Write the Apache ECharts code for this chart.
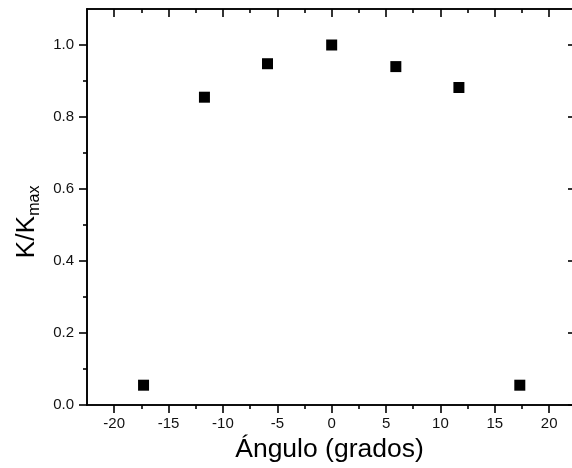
<!DOCTYPE html>
<html>
<head>
<meta charset="utf-8">
<script src="https://cdn.jsdelivr.net/npm/echarts@6/dist/echarts.min.js"></script>
<style>html,body{margin:0;padding:0;background:#fff}#c{width:572px;height:468px}</style>
</head>
<body>
<div id="c"></div>
<script>
const angles = [-17.3, -11.7, -5.9, 0, 5.9, 11.7, 17.3];
const kRatio = [0.055, 0.855, 0.948, 1.0, 0.94, 0.882, 0.055];
const xTicks = [-20, -15, -10, -5, 0, 5, 10, 15, 20];
const xMinorTicks = [-17.5, -12.5, -7.5, -2.5, 2.5, 7.5, 12.5, 17.5];
const yTicks = [0, 0.2, 0.4, 0.6, 0.8, 1.0];
const yMinorTicks = [0.1, 0.3, 0.5, 0.7, 0.9];
const xRange = [-22.5, 22.1];
const yRange = [0, 1.1];

const font = 'Liberation Sans, Arial, sans-serif';
const lineStyle = { color: '#000', width: 1.6 };

function xAx(pos, values, len, inside, labels, name) {
  return {
    type: 'value', position: pos, min: xRange[0], max: xRange[1],
    splitLine: { show: false },
    axisLine: { show: true, onZero: false, lineStyle },
    axisTick: { show: true, customValues: values, length: len, inside, lineStyle },
    axisLabel: labels ? { show: true, customValues: values, margin: 11, fontSize: 15, color: '#111', fontFamily: font,
      formatter: v => String(v) } : { show: false },
    name: name || '', nameLocation: 'middle', nameGap: 30,
    nameTextStyle: { fontSize: 26.5, color: '#000', fontFamily: font }
  };
}
function yAx(pos, values, len, inside, labels, name, showLine) {
  return {
    type: 'value', position: pos, min: yRange[0], max: yRange[1],
    splitLine: { show: false },
    axisLine: { show: showLine !== false, onZero: false, lineStyle },
    axisTick: { show: true, customValues: values, length: len, inside, lineStyle },
    axisLabel: labels ? { show: true, customValues: values, margin: 13, fontSize: 15, color: '#111', fontFamily: font,
      formatter: v => v.toFixed(1) } : { show: false },
    name: name || '', nameLocation: 'middle', nameGap: 44,
    nameTextStyle: { fontSize: 26.5, color: '#000', fontFamily: font, padding: [0, 30, 0, 0],
      rich: { sub: { fontSize: 16, color: '#000', fontFamily: font, padding: [15, 0, 0, 0] } } }
  };
}

const chart = echarts.init(document.getElementById('c'), null, { renderer: 'canvas' });
chart.setOption({
  animation: false,
  backgroundColor: '#fff',
  grid: { left: 87, top: 9, right: 0, bottom: 63, containLabel: false },
  xAxis: [
    xAx('bottom', xTicks, 8, false, true, 'Ángulo (grados)'),
    xAx('bottom', xMinorTicks, 4, false, false),
    xAx('top', xTicks, 8, true, false),
    xAx('top', xMinorTicks, 4, true, false)
  ],
  yAxis: [
    yAx('left', yTicks, 8, false, true, 'K/K{sub|max}'),
    yAx('left', yMinorTicks, 4, false, false),
    yAx('right', yTicks, 4, true, false, '', false)
  ],
  series: [{
    type: 'scatter', xAxisIndex: 0, yAxisIndex: 0,
    symbol: 'rect', symbolSize: 11,
    itemStyle: { color: '#000', opacity: 1 },
    data: angles.map((a, i) => [a, kRatio[i]])
  }]
});
</script>
</body>
</html>
